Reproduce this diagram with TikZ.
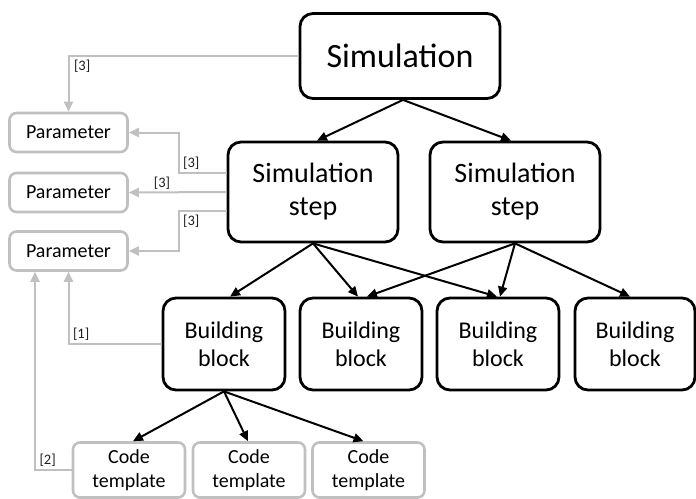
\documentclass[tikz,border=0pt]{standalone}
\usepackage{fontspec}
\setmainfont{Carlito}
\usetikzlibrary{arrows.meta}
\definecolor{lightgrey}{RGB}{192,192,192}
\definecolor{labelgrey}{RGB}{30,30,30}

\begin{document}
\begin{tikzpicture}[x=1pt, y=-1pt,
		bigbox/.style={draw=black, line width=2.8pt, rounded corners=13pt, align=center, fill=white},
		greybox/.style={draw=lightgrey, line width=2.6pt, rounded corners=7pt, align=center, fill=white},
		arr/.style={line width=2pt, -{Triangle[length=10pt, width=9pt]}},
		garr/.style={line width=2pt, draw=lightgrey, -{Triangle[length=10pt, width=9pt, fill=lightgrey]}},
		lbl/.style={text=labelgrey, font=\fontsize{14.5}{16}\selectfont, inner sep=1.5pt}]
			%%%%% START %%%%%
			
			\useasboundingbox (0, 0) rectangle (696, 498);
			
			\node[bigbox, minimum width=200, minimum height=85, font=\fontsize{34}{40}\selectfont] (sim) at (400, 56) {Simulation};
			
			\node[bigbox, minimum width=170, minimum height=100, font=\fontsize{28}{33}\selectfont] (stepA) at (313, 192) {Simulation\\step};
			\node[bigbox, minimum width=170, minimum height=100, font=\fontsize{28}{33}\selectfont] (stepB) at (515, 192) {Simulation\\step};
			
			\node[bigbox, minimum width=122, minimum height=92, font=\fontsize{24}{28}\selectfont] (bb1) at (224, 344) {Building\\block};
			\node[bigbox, minimum width=122, minimum height=92, font=\fontsize{24}{28}\selectfont] (bb2) at (361, 344) {Building\\block};
			\node[bigbox, minimum width=122, minimum height=92, font=\fontsize{24}{28}\selectfont] (bb3) at (498, 344) {Building\\block};
			\node[bigbox, minimum width=120, minimum height=92, font=\fontsize{24}{28}\selectfont] (bb4) at (635, 344) {Building\\block};
			
			\node[greybox, minimum width=118, minimum height=39, font=\fontsize{20}{23}\selectfont] (param1) at (68.5, 132.5) {Parameter};
			\node[greybox, minimum width=118, minimum height=39, font=\fontsize{20}{23}\selectfont] (param2) at (68.5, 192.5) {Parameter};
			\node[greybox, minimum width=118, minimum height=39, font=\fontsize{20}{23}\selectfont] (param3) at (68.5, 251) {Parameter};
			
			\node[greybox, minimum width=112, minimum height=55, font=\fontsize{20}{24.5}\selectfont] (ct1) at (129, 470) {Code\\template};
			\node[greybox, minimum width=112, minimum height=55, font=\fontsize{20}{24.5}\selectfont] (ct2) at (249, 470) {Code\\template};
			\node[greybox, minimum width=112, minimum height=55, font=\fontsize{20}{24.5}\selectfont] (ct3) at (368.5, 470) {Code\\template};
			
			% tree
			\draw[arr] ([xshift=3pt]sim.south) -- ([xshift=4pt]stepA.north);
			\draw[arr] ([xshift=3pt]sim.south) -- ([xshift=-4pt]stepB.north);
			
			\draw[arr] (stepA.south) -- ([xshift=6pt]bb1.north);
			\draw[arr] (stepA.south) -- ([xshift=-3pt]bb2.north);
			\draw[arr] (stepA.south) -- ([xshift=-1pt]bb3.north);
			\draw[arr] (stepB.south) -- ([xshift=6pt]bb2.north);
			\draw[arr] (stepB.south) -- ([xshift=2pt]bb3.north);
			\draw[arr] (stepB.south) -- ([xshift=-5pt]bb4.north);
			
			\draw[arr] (bb1.south) -- ([xshift=4pt]ct1.north);
			\draw[arr] (bb1.south) -- ([xshift=-1pt]ct2.north);
			\draw[arr] (bb1.south) -- ([xshift=-5pt]ct3.north);
			
			% parameter links
			\draw[garr] (sim.west) -| (param1.north) node[lbl, pos=0.5, anchor=north west, xshift=3pt, yshift=-2pt] {[3]};
			\draw[garr] ([yshift=19pt]stepA.west) -- ++(-48, 0) node[lbl, pos=1, anchor=south west, xshift=2pt, yshift=1pt] {[3]} |- (param1.east);
			\draw[garr] (stepA.west) -- (param2.east) node[lbl, pos=0.66, above] {[3]};
			\draw[garr] ([yshift=-19pt]stepA.west) -- ++(-48, 0) node[lbl, pos=1, anchor=north west, xshift=2pt, yshift=-2pt] {[3]} |- (param3.east);
			
			\draw[garr] (bb1.west) -| (param3.south) node[lbl, pos=0.5, anchor=south west, xshift=2pt, yshift=1pt] {[1]};
			\draw[garr] (ct1.west) -| ([xshift=-33.5pt]param3.south) node[lbl, pos=0.5, anchor=south west, xshift=2pt, yshift=1pt] {[2]};
			
			%%%%% END %%%%%
		\end{tikzpicture}
\end{document}
